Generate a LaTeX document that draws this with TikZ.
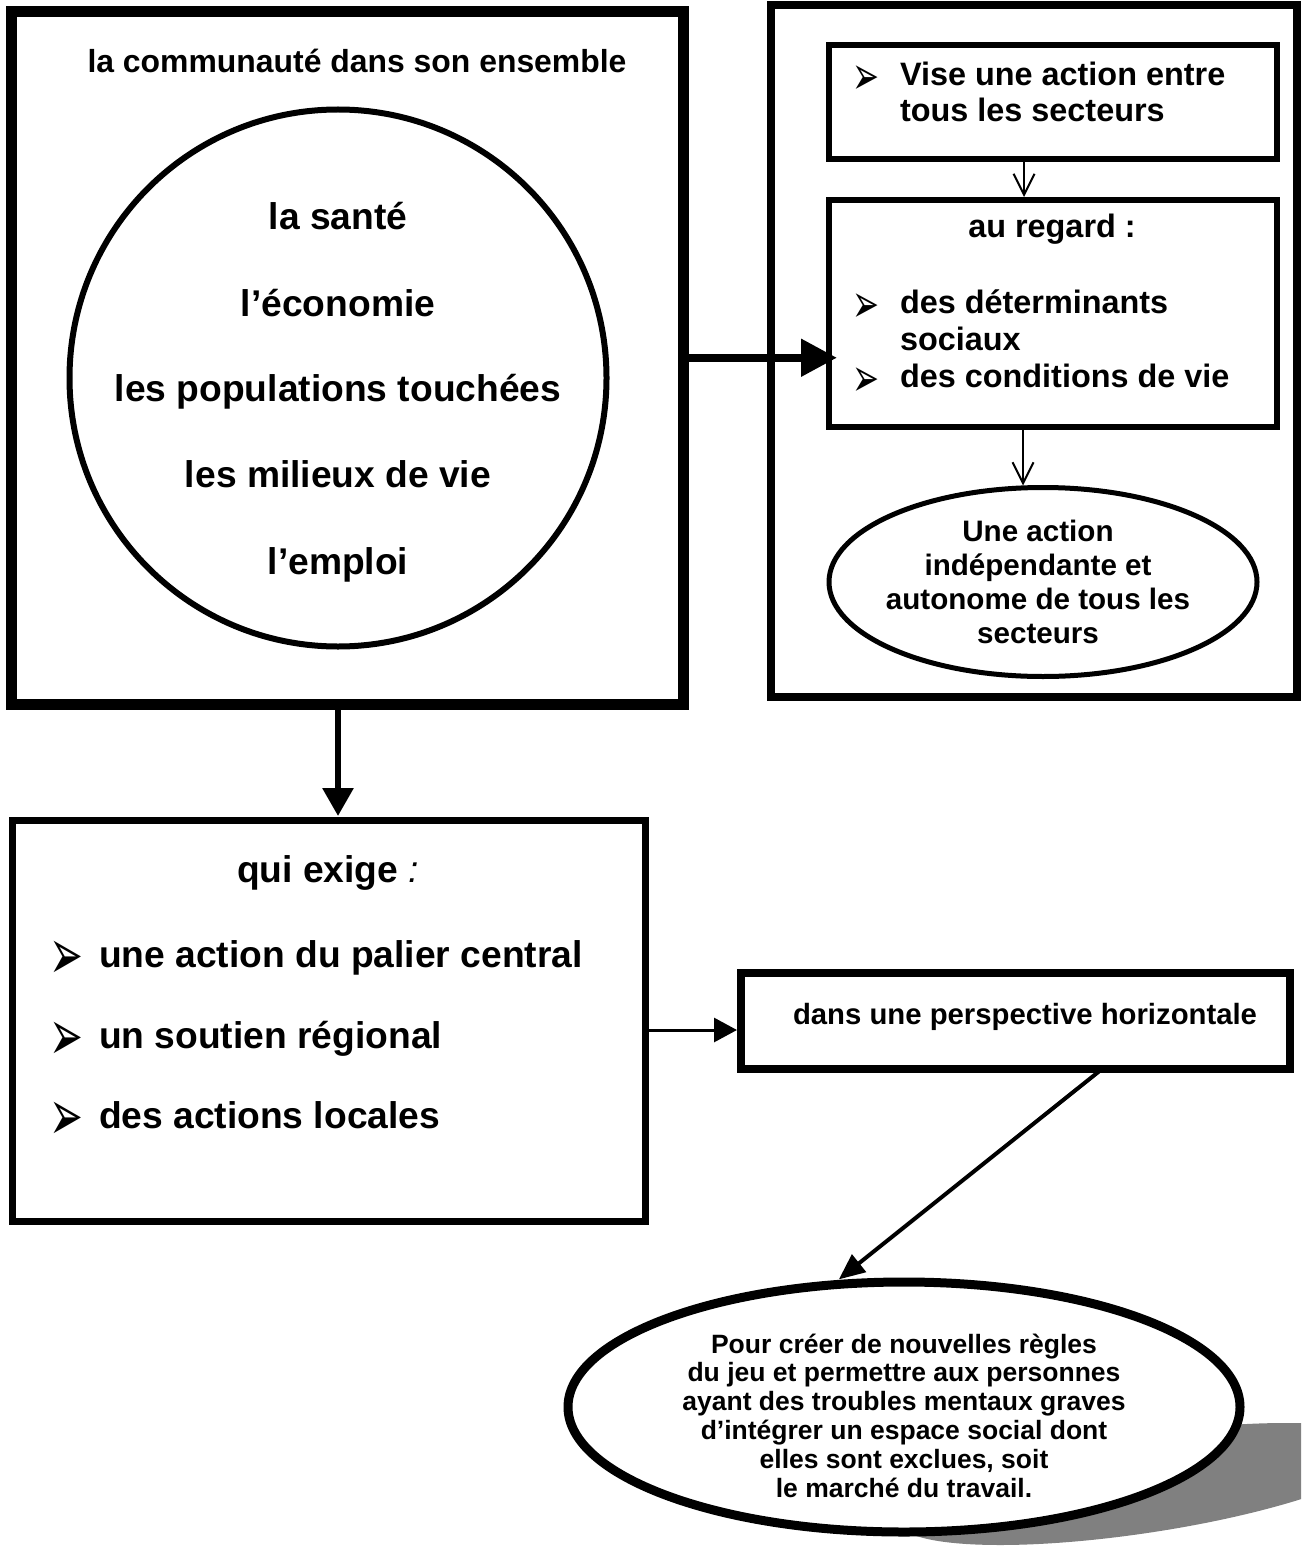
\documentclass[tikz,border=0pt]{standalone}
\usepackage{fontspec}
\usepackage{graphicx}
\setmainfont{Liberation Sans}
\newfontfamily\dingfont{DejaVu Sans}
\usetikzlibrary{arrows.meta,shapes.geometric,calc}

\newcommand\setfs[2]{\fontsize{#1}{#2}\selectfont}
% arrowhead bullet, drawn taller and narrower than the plain glyph
\newcommand\arrbullet[2]{\scalebox{#1}[#2]{➢}}

\begin{document}
\begin{tikzpicture}[x=0.5pt,y=-0.5pt,
  every node/.style={inner sep=0pt,outer sep=0pt},
  boxshape/.style={draw,rectangle,fill=white},
  ellshape/.style={draw,ellipse,fill=white},
  circtxt/.style={anchor=base,font=\setfs{18.6pt}{22pt}\bfseries},
  headtxt/.style={anchor=base,font=\setfs{15.95pt}{19pt}\bfseries},
  righttxt/.style={font=\setfs{16.2pt}{18.5pt}\bfseries},
  rellipsetxt/.style={anchor=base,font=\setfs{14.8pt}{17pt}\bfseries},
  listtxt/.style={anchor=base west,font=\setfs{18.6pt}{22pt}\bfseries},
  perspectxt/.style={anchor=base west,font=\setfs{14.65pt}{17pt}\bfseries},
  bellipsetxt/.style={anchor=base,font=\setfs{13.25pt}{14.4pt}\bfseries},
  smallbullet/.style={anchor=base west,font=\dingfont\setfs{19pt}{20pt}},
  bigbullet/.style={anchor=base west,font=\dingfont\setfs{22.5pt}{24pt}},
  openarrow/.style={line width=1pt,-{Straight Barb[length=10.5pt,width=10.5pt]}}]

% page area
\useasboundingbox (0,0) rectangle (1301,1546);
\fill[white] (0,0) rectangle (1301,1546);

% ---------- left block: the community ----------
\node[boxshape,line width=5.5pt,minimum width=335.75pt,minimum height=346.25pt]
  (comm) at (347.25,357.75) {};
\node[headtxt] (tcomm) at (357,72.5) {la communauté dans son ensemble};
\node[draw,circle,line width=3pt,minimum size=268.5pt] (circ) at (338,378) {};
\node[circtxt] (c1) at (338,229.6) {la santé};
\node[circtxt] (c2) at (338,316) {l’économie};
\node[circtxt] (c3) at (338,401.7) {les populations touchées};
\node[circtxt] (c4) at (338,487.6) {les milieux de vie};
\node[circtxt] (c5) at (338,574) {l’emploi};

% ---------- right block: intersectoral action ----------
\node[draw,rectangle,line width=4pt,minimum width=263pt,minimum height=345.75pt]
  (rframe) at (1033.5,351.25) {};
\node[boxshape,line width=3pt,minimum width=224pt,minimum height=57pt]
  (vise) at (1053,102) {};
\node[smallbullet] (vb1) at (852,95) {\arrbullet{0.85}{1.42}};
\node[righttxt,anchor=base west] (v1) at (900,86) {Vise une action entre};
\node[righttxt,anchor=base west] (v2) at (900,122) {tous les secteurs};

\node[boxshape,line width=3pt,minimum width=224pt,minimum height=113.5pt]
  (regard) at (1053,313.5) {};
\node[righttxt,anchor=base] (r0) at (1052,238) {au regard :};
\node[smallbullet] (rb1) at (852,322) {\arrbullet{0.85}{1.42}};
\node[righttxt,anchor=base west] (r1) at (900,313) {des déterminants};
\node[righttxt,anchor=base west] (r2) at (900,350) {sociaux};
\node[smallbullet] (rb2) at (852,396) {\arrbullet{0.85}{1.42}};
\node[righttxt,anchor=base west] (r3) at (900,387) {des conditions de vie};

\node[ellshape,line width=2.5pt,minimum width=214pt,minimum height=94.5pt]
  (rell) at (1043,582) {};
\node[rellipsetxt] (e1) at (1038,541) {Une action};
\node[rellipsetxt] (e2) at (1038,575) {indépendante et};
\node[rellipsetxt] (e3) at (1038,609) {autonome de tous les};
\node[rellipsetxt] (e4) at (1038,643) {secteurs};

\draw[openarrow] ($(vise.south)+(-29,0)$) -- ($(regard.north)+(-29,-3)$);
\draw[openarrow] ($(regard.south)+(-30,0)$) -- ($(rell.north)+(-20,-2)$);

% ---------- lower left block: levels of action ----------
\node[boxshape,line width=3.5pt,minimum width=316.5pt,minimum height=200.5pt]
  (qui) at (328.5,1020.5) {};
\node[anchor=base,font=\setfs{18.6pt}{22pt}\bfseries] (q0) at (328,882)
  {qui exige {\mdseries\itshape :}};
\node[bigbullet] (qb1) at (49,979) {\arrbullet{0.9}{1.6}};
\node[listtxt] (q1) at (99,967) {une action du palier central};
\node[bigbullet] (qb2) at (49,1060) {\arrbullet{0.9}{1.6}};
\node[listtxt] (q2) at (99,1048) {un soutien régional};
\node[bigbullet] (qb3) at (49,1140) {\arrbullet{0.9}{1.6}};
\node[listtxt] (q3) at (99,1128) {des actions locales};

% ---------- horizontal perspective ----------
\node[boxshape,line width=4pt,minimum width=274.5pt,minimum height=48pt]
  (persp) at (1015.5,1021) {};
\node[perspectxt] (p0) at (793,1024) {dans une perspective horizontale};

% ---------- goal ellipse with its cast shadow ----------
\begin{scope}
  \clip (0,0) rectangle (1301,1546);
  \fill[black!50] plot[domain=0:360,samples=180,variable=\t]
    ({1142.5+200*cos(\t)+142.5*sin(\t)},{1484-61*sin(\t)}) -- cycle;
\end{scope}
\node[ellshape,line width=4.5pt,minimum width=336pt,minimum height=125pt]
  (bell) at (904,1407) {};
\node[bellipsetxt] (g1) at (904,1353) {Pour créer de nouvelles règles};
\node[bellipsetxt] (g2) at (904,1381.8) {du jeu et permettre aux personnes};
\node[bellipsetxt] (g3) at (904,1410.6) {ayant des troubles mentaux graves};
\node[bellipsetxt] (g4) at (904,1439.4) {d’intégrer un espace social dont};
\node[bellipsetxt] (g5) at (904,1468.2) {elles sont exclues, soit};
\node[bellipsetxt] (g6) at (904,1497) {le marché du travail.};

% ---------- connectors between blocks ----------
\draw[line width=4pt,-{Triangle[length=18pt,width=18pt]}]
  (comm.east) -- ($(regard.west |- comm.east)+(8,0)$);
\draw[line width=3pt,-{Triangle[length=14pt,width=15pt]}]
  (circ.center |- comm.south) -- ($(circ.center |- qui.north)+(0,-4)$);
\draw[line width=1.5pt,-{Triangle[length=11.5pt,width=12pt]}]
  ([yshift=-4.75pt]qui.east) -- ([xshift=-2pt,yshift=-4.5pt]persp.west);
\draw[line width=2pt,-{Triangle[length=13pt,width=11pt]}]
  ($(persp.south)+(86.5,0)$) -- ([yshift=2.5pt]bell.118);

\end{tikzpicture}
\end{document}
